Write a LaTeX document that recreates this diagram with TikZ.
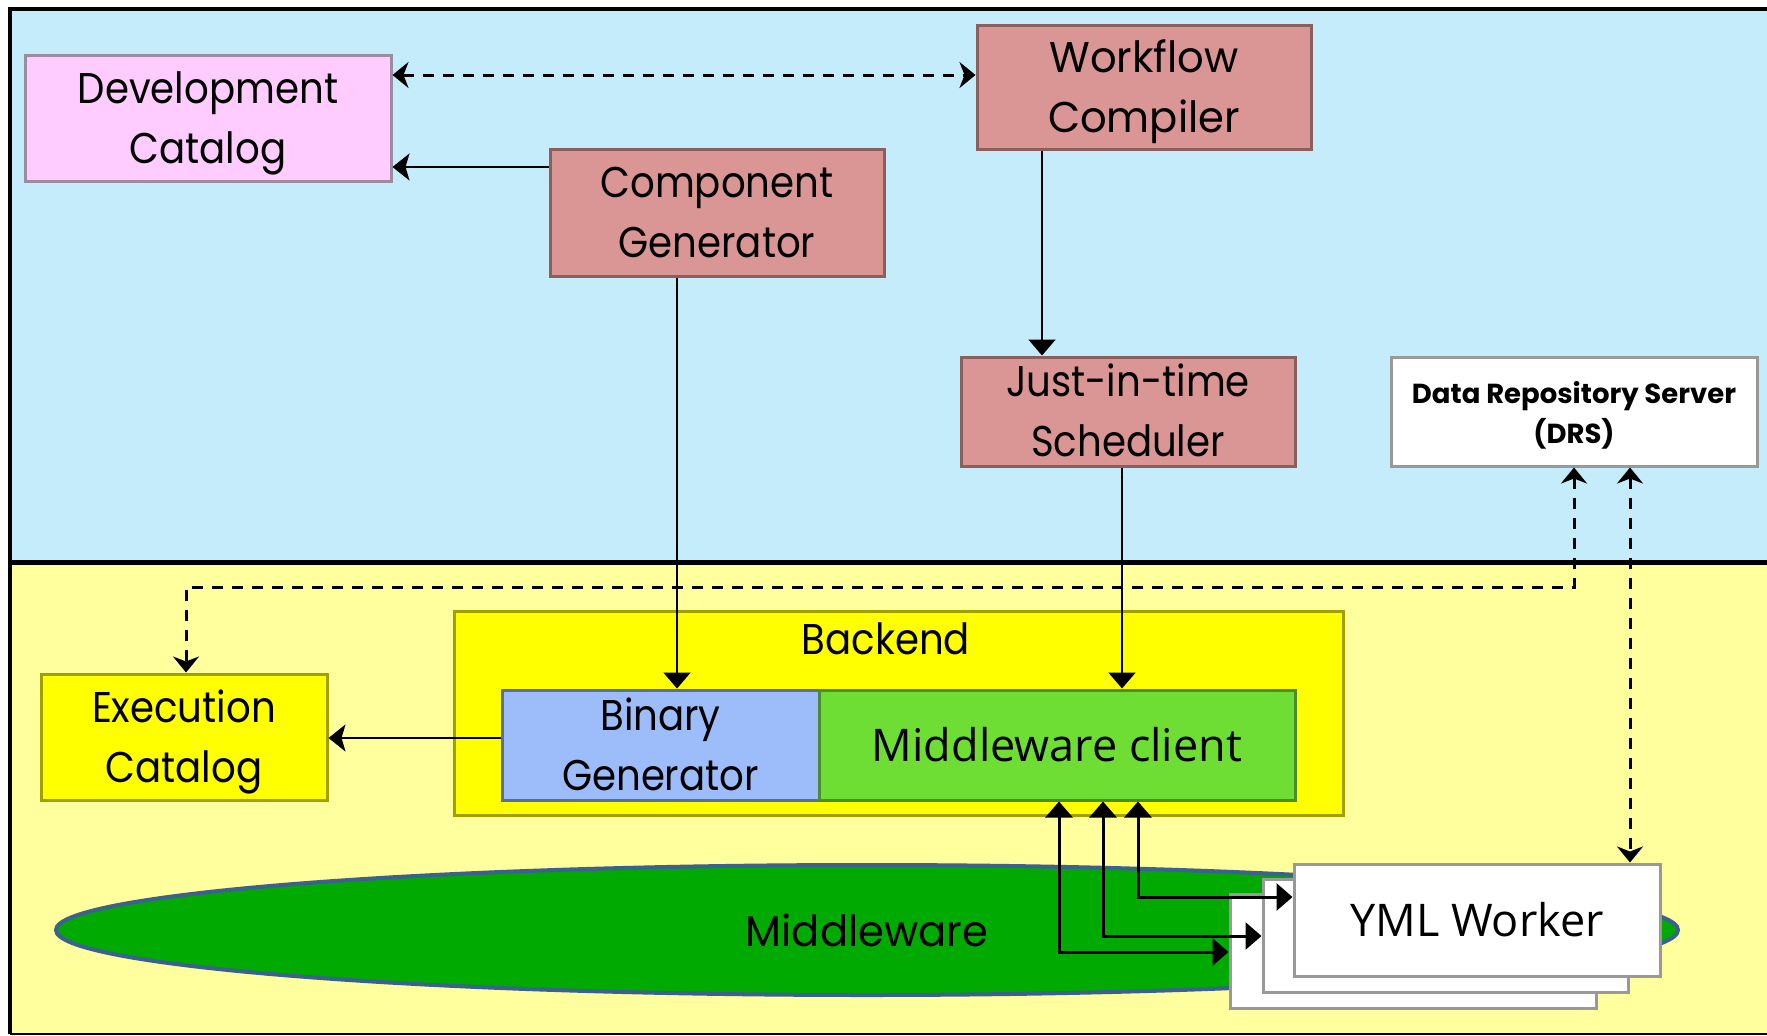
\documentclass[tikz,border=0pt]{standalone}
\usepackage{fontspec}
\setmainfont{Poppins}[FakeStretch=0.9]
\newfontfamily\geowide{Poppins}[FakeStretch=0.97]
\newfontfamily\drsfamily{Poppins}
\newfontfamily\humanist{Open Sans}
\usetikzlibrary{arrows.meta,shapes.geometric}

\definecolor{skybg}{HTML}{C4ECFB}
\definecolor{paleyellow}{HTML}{FFFF9E}
\definecolor{pinkfill}{HTML}{FFCCFF}
\definecolor{pinkline}{HTML}{9B8CA0}
\definecolor{rosefill}{HTML}{D99694}
\definecolor{roseline}{HTML}{8C5F5D}
\definecolor{yellowfill}{HTML}{FFFF00}
\definecolor{oliveline}{HTML}{A0A000}
\definecolor{bluefill}{HTML}{9CBDFA}
\definecolor{blueline}{HTML}{56709A}
\definecolor{limefill}{HTML}{6EDE35}
\definecolor{limeline}{HTML}{4D8B2C}
\definecolor{mwgreen}{HTML}{00AA00}
\definecolor{mwline}{HTML}{3C6090}
\definecolor{greyline}{HTML}{999999}

\newcommand\geofont{\fontsize{43}{60}\selectfont}
\newcommand\humfont{\humanist\fontsize{45}{60}\selectfont}
\newcommand\drsfont{\drsfamily\bfseries\fontsize{27.5}{40}\selectfont}
% two-line labels with a fixed first-line height and last-line depth,
% so that both baselines sit at the same place in every box
\newcommand\twolines[2]{\rule{0pt}{39pt}\raisebox{0pt}[0pt][\depth]{#1}\\%
  \raisebox{0pt}[\height][0pt]{#2}\rule[-9pt]{0pt}{0pt}}

\tikzset{
  box/.style={draw, line width=3pt, align=center, inner sep=0pt, font=\geofont},
  rosebox/.style={box, fill=rosefill, draw=roseline},
  pinkbox/.style={box, fill=pinkfill, draw=pinkline},
  yellowbox/.style={box, fill=yellowfill, draw=oliveline},
  whitebox/.style={box, fill=white, draw=greyline},
  thinarrow/.style={line width=2pt, -{Triangle[length=16pt,width=27pt]}},
  sidearrow/.style={line width=2pt, -{Stealth[length=17pt,width=27pt,inset=4pt]}},
  dasharrow/.style={line width=3pt, dash pattern=on 11pt off 9pt,
    {Stealth[length=16pt,width=26pt,inset=5pt]}-{Stealth[length=16pt,width=26pt,inset=5pt]}},
  linkarrow/.style={line width=3pt,
    {Triangle[length=16pt,width=27pt]}-{Triangle[length=16pt,width=27pt]}},
}

\begin{document}
\begin{tikzpicture}[x=1pt,y=-1pt]
\useasboundingbox (0,0) rectangle (1767,1036);

% two layers of the system
\fill[white] (0,0) rectangle (1767,1036);
\fill[skybg] (10,8) rectangle (1767,562);
\fill[paleyellow] (10,562) rectangle (1767,1034);
\draw[line width=4pt] (1767,9) -- (10,9) -- (10,1034);
\draw[line width=2pt] (10,1034) -- (1767,1034);
\draw[line width=5pt] (10,562) -- (1767,562);

% upper layer
\node[pinkbox, minimum width=366pt, minimum height=126pt] (dev) at (208,118) {\twolines{Development}{Catalog}};
\node[rosebox, minimum width=334pt, minimum height=124pt, font=\geowide\geofont] (wfc) at (1144,87) {\twolines{Workflow}{Compiler}};
\node[rosebox, minimum width=334pt, minimum height=127pt] (cg) at (717,212.5) {\twolines{Component}{Generator}};
\node[rosebox, minimum width=334pt, minimum height=109pt] (jit) at (1128,411.5) {\twolines{Just-in-time}{Scheduler}};
\node[whitebox, minimum width=366pt, minimum height=109pt, font=\drsfont] (drs) at (1574,411.5)
  {\rule{0pt}{31pt}Data Repository Server\\(DRS)\rule[-8pt]{0pt}{0pt}};

% lower layer
\node[yellowbox, minimum width=889pt, minimum height=204pt] (backend) at (898.5,713) {};
\node[font=\geofont] (backendlabel) at (886,639) {Backend};
\node[box, fill=bluefill, draw=blueline, minimum width=317pt, minimum height=110pt] (bin) at (660.5,745) {\twolines{Binary}{Generator}};
\node[box, fill=limefill, draw=limeline, minimum width=476pt, minimum height=110pt, font=\humfont] (mwc) at (1057,745) {Middleware client};
\node[yellowbox, minimum width=286pt, minimum height=126pt] (exec) at (184,737) {\twolines{Execution}{Catalog}};

\node[ellipse, draw=mwline, fill=mwgreen, line width=4pt, inner sep=0pt,
      minimum width=1622pt, minimum height=130pt, font=\geowide\geofont] (mw) at (867,930) {Middleware};

\node[whitebox, minimum width=366pt, minimum height=114pt] (wb) at (1413,951) {};
\node[whitebox, minimum width=365pt, minimum height=113pt] (wm) at (1445.5,935.5) {};
\node[whitebox, minimum width=366pt, minimum height=112pt, font=\humfont] (wf) at (1477,920) {YML Worker};

% connectors
\draw[dasharrow] (dev.east |- 0,75) -- (wfc.west |- 0,75);
\draw[sidearrow] (cg.west |- 0,167) -- (dev.east |- 0,167);
\draw[thinarrow] (wfc.south -| 1042,0) -- (jit.north -| 1042,0);
\draw[thinarrow] (cg.south -| 677,0) -- (bin.north -| 677,0);
\draw[thinarrow] (jit.south -| 1122,0) -- (mwc.north -| 1122,0);
\draw[sidearrow] (bin.west |- 0,738) -- (exec.east |- 0,738);
\draw[dasharrow] (drs.south) -- (drs.south |- 0,587) -| (exec.north -| 186,0);
\draw[dasharrow] (drs.south -| 1630,0) -- (wf.north -| 1630,0);
\draw[linkarrow] (mwc.south -| 1059,0) |- (wb.west |- 0,952);
\draw[linkarrow] (mwc.south -| 1103,0) |- (wm.west |- 0,936);
\draw[linkarrow] (mwc.south -| 1138,0) |- (wf.west |- 0,897);
\end{tikzpicture}
\end{document}
